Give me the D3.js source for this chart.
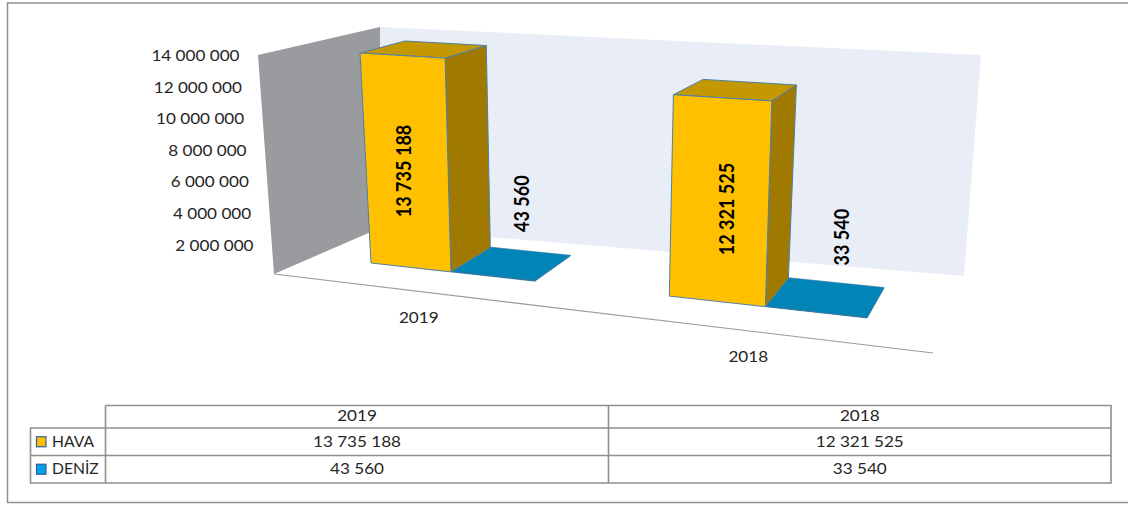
<!DOCTYPE html>
<html><head><meta charset="utf-8">
<style>html,body{margin:0;padding:0;background:#fff}svg{display:block}text{font-family:Lato,"Open Sans",sans-serif;fill:#262626}</style>
<script src="https://cdn.jsdelivr.net/npm/d3@7"></script></head>
<body><svg id="c" width="1128" height="505"></svg>
<script>
const categories = ["2019","2018"];
const seriesNames = ["HAVA","DENİZ"];
const hava = [13735188,12321525];
const deniz = [43560,33540];
const yTicks = [2000000,4000000,6000000,8000000,10000000,12000000,14000000];
const colors = {
  HAVA:{front:"#FFC000",top:"#C39800",side:"#A07A00",key:"#FFC000"},
  "DENİZ":{front:"#0085B6",top:"#0085B6",side:"#006F98",key:"#00A3E8"}
};
const fmt = v => d3.format(",")(v).replace(/,/g," ");
const svg = d3.select("#c");
const stretch = 1.18, fs = 14.5;

// square -> quad homography
function homography(p0,p1,p2,p3){
  const dx1=p1[0]-p2[0],dy1=p1[1]-p2[1],dx2=p3[0]-p2[0],dy2=p3[1]-p2[1];
  const sx=p0[0]-p1[0]+p2[0]-p3[0],sy=p0[1]-p1[1]+p2[1]-p3[1];
  const det=dx1*dy2-dx2*dy1;
  const g=(sx*dy2-dx2*sy)/det,h=(dx1*sy-sx*dy1)/det;
  const a=p1[0]-p0[0]+g*p1[0],b=p3[0]-p0[0]+h*p3[0],c=p0[0];
  const d=p1[1]-p0[1]+g*p1[1],e=p3[1]-p0[1]+h*p3[1],f=p0[1];
  return (u,w)=>{const q=g*u+h*w+1;return [(a*u+b*w+c)/q,(d*u+e*w+f)/q];};
}
const floorH = homography([371,263],[867,318],[884,288],[414,240]);
const ceilH  = homography([359.8,49],[876,79],[895,64],[404.8,37.2]);
const vScale = d3.scaleLinear().domain([0,14000000]).range([0,1]);
const uBand = d3.scaleBand().domain(categories).range([0,1]).paddingInner(0.428);
const uSeries = d3.scaleBand().domain(seriesNames).range([0,uBand.bandwidth()]);
const project = (u,w,val)=>{
  const a=floorH(u,w),b=ceilH(u,w),t=vScale(val);
  return [a[0]+(b[0]-a[0])*t,a[1]+(b[1]-a[1])*t];
};
const poly = pts => pts.map(p=>p.map(n=>n.toFixed(1)).join(",")).join(" ");
function label(g,x,y,txt,anchor,sx){
  return g.append("text").attr("transform",`translate(${x},${y}) scale(${sx||stretch},1)`)
    .attr("dy","0.35em").attr("text-anchor",anchor||"middle").attr("font-size",fs).text(txt);
}

// frame
svg.append("path").attr("d","M1128,3H7.5V502.5H1128").attr("fill","none").attr("stroke","#8f8f8f").attr("stroke-width",1.5);

// walls
svg.append("polygon").attr("points","258,55 380,27 380,228 274,274").attr("fill","#9A9B9F");
svg.append("polygon").attr("points","380,27 981,55 964,276 380,228").attr("fill","#E9EDF6");
svg.append("line").attr("x1",274).attr("y1",274).attr("x2",933).attr("y2",353).attr("stroke","#9a9a9a").attr("stroke-width",1.2);

// value axis labels follow the slant of the side wall
const yLabel = d3.scaleLinear().domain([2000000,14000000]).range([245.5,56]);
const xLabel = d3.scaleLinear().domain([2000000,14000000]).range([253.5,239.5]);
const axisG = svg.append("g");
yTicks.forEach(t=>label(axisG,xLabel(t),yLabel(t),fmt(t),"end"));

// category labels along the floor edge
const tAxis = d3.scaleBand().domain(categories).range([0,1]);
const catG = svg.append("g");
categories.forEach(c=>{
  const t=tAxis(c)+tAxis.bandwidth()/2;
  label(catG,274+(933-274)*t-20,274+(353-274)*t+24,c);
});

// bars
const rows = [];
categories.forEach((c,i)=>{
  rows.push({cat:c,s:"DENİZ",v:deniz[i]});
  rows.push({cat:c,s:"HAVA",v:hava[i]});
});
const barG = svg.append("g");
rows.forEach(r=>{
  const u0=uBand(r.cat)+uSeries(r.s),u1=u0+uSeries.bandwidth();
  const col=colors[r.s];
  const face=(pts,fill)=>barG.append("polygon").attr("points",poly(pts)).attr("fill",fill)
    .attr("stroke",r.s==="HAVA"?"#4E7FA6":"#2F6F9F").attr("stroke-width",r.s==="HAVA"?1:0.6).attr("stroke-linejoin","round");
  face([project(u1,0,0),project(u1,1,0),project(u1,1,r.v),project(u1,0,r.v)],col.side);
  face([project(u0,1,r.v),project(u1,1,r.v),project(u1,0,r.v),project(u0,0,r.v)],col.top);
  face([project(u0,0,0),project(u1,0,0),project(u1,0,r.v),project(u0,0,r.v)],col.front);
});

// data labels
const labelG = svg.append("g");
const havaLabelX = d3.scaleLinear().domain([406,720]).range([403,727]);
const denizLabelX = d3.scaleLinear().domain([526,839]).range([522,841]);
rows.forEach(r=>{
  const u=uBand(r.cat)+uSeries(r.s)+uSeries.bandwidth()/2;
  let x,y;
  if(r.s==="HAVA"){const p=project(u,0,r.v/2);x=havaLabelX(p[0]);y=p[1]+9.5;}
  else{const p=project(u,0.5,r.v);x=denizLabelX(p[0]+14);y=p[1]-59.5;}
  labelG.append("text").attr("transform",`translate(${x},${y}) rotate(-90) scale(0.86,1)`)
    .attr("text-anchor","middle").attr("dy","0.35em").attr("font-size",21).attr("font-weight",700)
    .style("fill","#000").text(fmt(r.v));
});

// data table
const colX = [105.5,608.5,1111];
const rowY = [405.5,428,455.5,483];
const tbl = svg.append("g").attr("stroke","#8f8f8f").attr("stroke-width",1.6).attr("fill","none");
tbl.append("path").attr("d",`M${colX[0]},${rowY[0]}H${colX[2]}V${rowY[3]}H30.5V${rowY[1]}H${colX[2]}M30.5,${rowY[2]}H${colX[2]}M${colX[0]},${rowY[0]}V${rowY[3]}M${colX[1]},${rowY[0]}V${rowY[3]}`);
const tblG = svg.append("g");
categories.forEach((c,i)=>{
  const cx=(colX[i]+colX[i+1])/2;
  label(tblG,cx,(rowY[0]+rowY[1])/2-0.5,c);
  [hava,deniz].forEach((s,j)=>label(tblG,cx,(rowY[j+1]+rowY[j+2])/2,fmt(s[i])));
});
seriesNames.forEach((n,j)=>{
  const my=(rowY[j+1]+rowY[j+2])/2;
  svg.append("rect").attr("x",36.5).attr("y",my-5).attr("width",9.5).attr("height",10)
    .attr("fill",colors[n].key).attr("stroke","#2F5F9A").attr("stroke-width",1.2);
  label(tblG,52,my,n,"start",1.08);
});
</script></body></html>
